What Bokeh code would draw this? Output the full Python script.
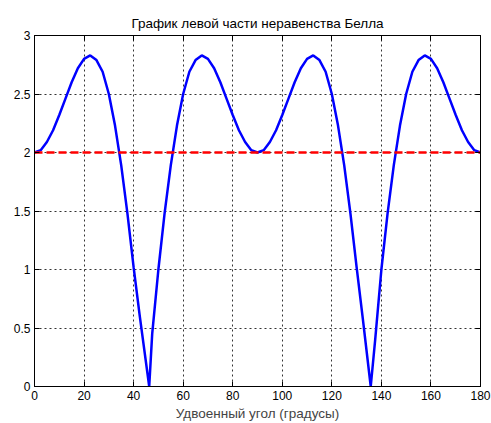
from bokeh.plotting import figure
from bokeh.models import Range1d, FixedTicker, LinearAxis
from bokeh.embed import file_html
from bokeh.resources import INLINE

# Data
angle = [0, 2.5, 5, 7.5, 10, 12.5, 15, 17.5, 20, 22.5, 25, 27.5, 30, 32.5, 35, 37.5, 40, 42.5,
         46.3, 47.5, 50, 52.5, 55, 57.5, 60, 62.5, 65, 67.5, 70, 72.5, 75, 77.5, 80, 82.5, 85, 87.5,
         90, 92.5, 95, 97.5, 100, 102.5, 105, 107.5, 110, 112.5, 115, 117.5, 120, 122.5, 125, 127.5,
         130, 132.5, 135.7, 137.5, 140, 142.5, 145, 147.5, 150, 152.5, 155, 157.5, 160, 162.5, 165,
         167.5, 170, 172.5, 175, 177.5, 180]
bell_lhs = [2.00, 2.02, 2.09, 2.19, 2.32, 2.46, 2.60, 2.72, 2.80, 2.83, 2.79, 2.69, 2.50, 2.23, 1.89,
            1.48, 1.02, 0.60, 0.00, 0.45, 1.00, 1.48, 1.89, 2.23, 2.50, 2.69, 2.79, 2.83, 2.80, 2.72,
            2.60, 2.46, 2.32, 2.19, 2.09, 2.02, 2.00, 2.02, 2.09, 2.19, 2.32, 2.46, 2.60, 2.72, 2.80,
            2.83, 2.79, 2.69, 2.50, 2.23, 1.89, 1.48, 1.02, 0.58, 0.00, 0.40, 1.00, 1.48, 1.89, 2.23,
            2.50, 2.69, 2.79, 2.83, 2.80, 2.72, 2.60, 2.46, 2.32, 2.19, 2.09, 2.02, 2.00]
limit_x = [0, 180]
limit_y = [2, 2]

x_ticks = [0, 20, 40, 60, 80, 100, 120, 140, 160, 180]
y_ticks = [0, 0.5, 1, 1.5, 2, 2.5, 3]
y_tick_labels = ["0", "0.5", "1", "1.5", "2", "2.5", "3"]

title_text = "График левой части неравенства Белла"
x_label = "Удвоенный угол (градусы)"

FONT = "Liberation Sans"

p = figure(width=491, height=423, output_backend="svg", toolbar_location=None,
           x_range=Range1d(0, 180), y_range=Range1d(0, 3),
           min_border_left=34, min_border_right=11, min_border_top=35, min_border_bottom=36,
           background_fill_color="white", border_fill_color="white")

p.title.text = title_text
p.title.text_font = FONT
p.title.text_font_size = "13.5px"
p.title.text_font_style = "normal"
p.title.align = "center"
p.title.text_color = "#000000"

p.line(angle, bell_lhs, line_color="#0000ff", line_width=2.5)
p.line(limit_x, limit_y, line_color="#ff0000", line_width=2.5, line_dash="8 4")

for ax in p.xaxis:
    ax.ticker = FixedTicker(ticks=x_ticks)
for ax in p.yaxis:
    ax.ticker = FixedTicker(ticks=y_ticks)
    ax.major_label_overrides = {t: l for t, l in zip(y_ticks, y_tick_labels)}

p.xaxis.axis_label = x_label
p.xaxis.axis_label_text_font = FONT
p.xaxis.axis_label_text_font_size = "13.5px"
p.xaxis.axis_label_text_font_style = "normal"
p.xaxis.axis_label_standoff = 3

for ax in list(p.xaxis) + list(p.yaxis):
    ax.major_label_text_font = FONT
    ax.major_label_text_font_size = "12px"
    ax.major_label_text_color = "#000000"
    ax.major_tick_in = 5
    ax.major_tick_out = 0
    ax.minor_tick_in = 0
    ax.minor_tick_out = 0
    ax.axis_line_color = "#000000"
    ax.major_tick_line_color = "#000000"
    ax.major_label_standoff = 4

# box ticks on top and right (no labels drawn)
top_ax = LinearAxis(ticker=FixedTicker(ticks=x_ticks), major_tick_in=5, major_tick_out=0,
                    minor_tick_in=0, minor_tick_out=0, major_label_text_font_size="1px",
                    major_label_text_color=None, major_label_standoff=0,
                    axis_line_color="#000000")
right_ax = LinearAxis(ticker=FixedTicker(ticks=y_ticks), major_tick_in=5, major_tick_out=0,
                      minor_tick_in=0, minor_tick_out=0, major_label_text_font_size="1px",
                      major_label_text_color=None, major_label_standoff=0,
                      axis_line_color="#000000")
p.add_layout(top_ax, "above")
p.add_layout(right_ax, "right")

for g in list(p.xgrid) + list(p.ygrid):
    g.grid_line_color = "#000000"
    g.grid_line_alpha = 0.8
    g.grid_line_dash = "2 3"
    g.grid_line_width = 1
p.xgrid.ticker = FixedTicker(ticks=x_ticks)
p.ygrid.ticker = FixedTicker(ticks=y_ticks)

p.outline_line_color = "#000000"

open("out.html", "w").write(file_html(p, INLINE))
